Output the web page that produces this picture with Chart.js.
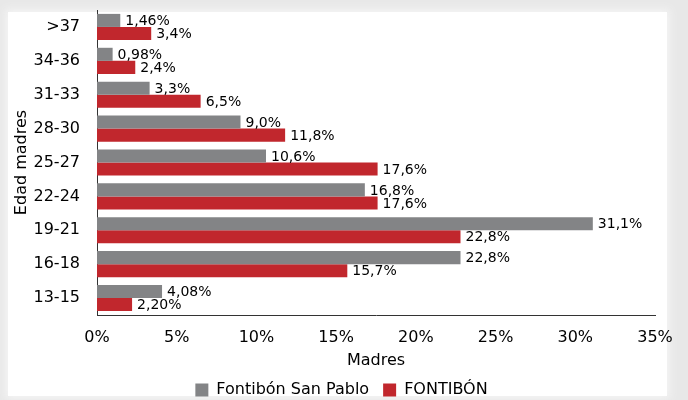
<!DOCTYPE html>
<html><head><meta charset="utf-8">
<script src="https://cdn.jsdelivr.net/npm/chart.js@4.4.1/dist/chart.umd.min.js"></script>
<style>
html,body{margin:0;padding:0;background:#e8e8e8;}
#wrap{position:relative;width:688px;height:400px;overflow:hidden;}
#panel{position:absolute;left:8px;top:12px;width:659px;height:384px;background:#fff;box-shadow:0 0 8px 3px #f4f4f4;}
canvas{position:absolute;left:0;top:0;}
</style></head><body>
<div id="wrap"><div id="panel"></div><canvas id="c" width="688" height="400"></canvas></div>
<script>
const categories = ['>37','34-36','31-33','28-30','25-27','22-24','19-21','16-18','13-15'];
const sanPablo = [1.46, 0.98, 3.3, 9.0, 10.6, 16.8, 31.1, 22.8, 4.08];
const fontibon = [3.4, 2.4, 6.5, 11.8, 17.6, 17.6, 22.8, 15.7, 2.20];
const sanPabloLabels = ['1,46%','0,98%','3,3%','9,0%','10,6%','16,8%','31,1%','22,8%','4,08%'];
const fontibonLabels = ['3,4%','2,4%','6,5%','11,8%','17,6%','17,6%','22,8%','15,7%','2,20%'];
const xTickLabels = ['0%','5%','10%','15%','20%','25%','30%','35%'];
const seriesNames = ['Fontibón San Pablo','FONTIBÓN'];

const FONT = 'DejaVu Sans';

const barLabels = {
  id: 'barLabels',
  afterDatasetsDraw(chart) {
    const ctx = chart.ctx;
    ctx.save();
    ctx.font = '14px "' + FONT + '"';
    ctx.fillStyle = '#000';
    ctx.textBaseline = 'middle';
    ctx.textAlign = 'left';
    chart.data.datasets.forEach((ds, di) => {
      const meta = chart.getDatasetMeta(di);
      meta.data.forEach((bar, i) => {
        ctx.fillText(ds.valueLabels[i], bar.x + 5, bar.y + 1);
      });
    });
    ctx.restore();
  }
};

const legendShift = {
  id: 'legendShift',
  afterLayout(chart) {
    const l = chart.legend;
    if (l) { l.left += 14; l.right += 14; }
  }
};

new Chart(document.getElementById('c'), {
  type: 'bar',
  data: {
    labels: categories,
    datasets: [
      { label: seriesNames[0], data: sanPablo, valueLabels: sanPabloLabels, backgroundColor: '#838486', borderWidth: 0 },
      { label: seriesNames[1], data: fontibon, valueLabels: fontibonLabels, backgroundColor: '#c1272d', borderWidth: 0 }
    ]
  },
  options: {
    indexAxis: 'y',
    responsive: false,
    animation: false,
    devicePixelRatio: 1,
    categoryPercentage: 0.77,
    barPercentage: 1.0,
    layout: { padding: { top: 10, right: 33, left: 0, bottom: 0 } },
    plugins: {
      tooltip: { enabled: false },
      legend: {
        position: 'bottom',
        maxHeight: 32,
        labels: {
          boxWidth: 13, boxHeight: 13, padding: 14,
          color: '#000',
          font: { family: FONT, size: 16 }
        }
      }
    },
    scales: {
      x: {
        min: 0, max: 35,
        ticks: {
          stepSize: 5, padding: 13, color: '#000',
          font: { family: FONT, size: 16 },
          callback: (v, i) => xTickLabels[i]
        },
        grid: { display: false, drawTicks: false },
        border: { display: true, color: '#333', width: 1 },
        title: { display: true, text: 'Madres', color: '#000', font: { family: FONT, size: 16 }, padding: { top: 0, bottom: -2 } },
        afterFit: (s) => { s.height = 53; s.paddingLeft = 0; s.paddingRight = 0; }
      },
      y: {
        ticks: { padding: 17, color: '#000', font: { family: FONT, size: 16 } },
        grid: { display: false, drawTicks: false },
        border: { display: true, color: '#333', width: 1 },
        title: { display: true, text: 'Edad madres', color: '#000', font: { family: FONT, size: 16 }, padding: { top: 12, bottom: 0 } },
        afterFit: (s) => { s.width = 97; s.paddingTop = 0; s.paddingBottom = 0; }
      }
    }
  },
  plugins: [barLabels, legendShift]
});
</script>
</body></html>
